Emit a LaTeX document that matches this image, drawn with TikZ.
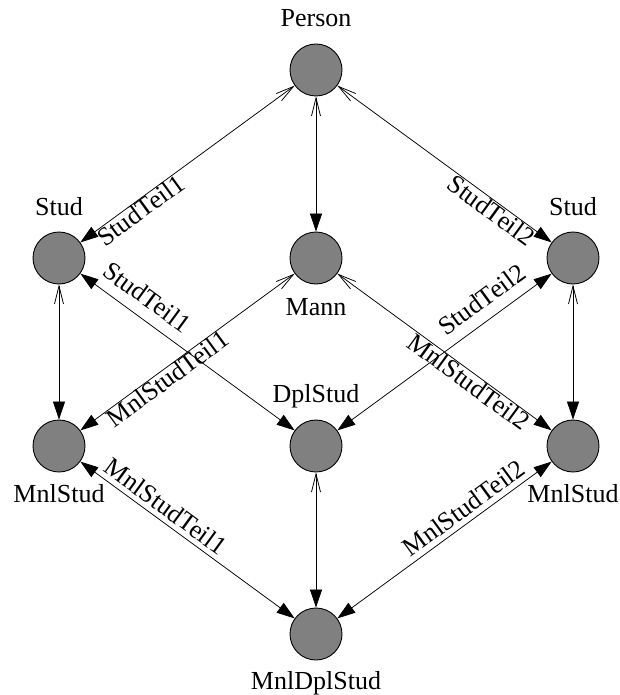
\documentclass[tikz,border=0pt]{standalone}
\usepackage{fontspec}
\setmainfont{Liberation Serif}
\usetikzlibrary{arrows.meta}
\definecolor{classgray}{RGB}{128,128,128}
\begin{document}
\begin{tikzpicture}[x=1pt,y=-1pt,
  cls/.style={circle, draw=black, line width=0.9pt, fill=classgray, minimum size=52pt, inner sep=0pt},
  cname/.style={font=\fontsize{26}{30}\selectfont, anchor=base, inner sep=0pt},
  lbl/.style={font=\fontsize{26}{30}\selectfont, sloped, inner sep=0pt},
  sub/.style={line width=0.75pt, {Straight Barb[length=18pt,width=9pt]}-{Triangle[length=18pt,width=12pt]}},
  both/.style={line width=0.75pt, {Triangle[length=18pt,width=12pt]}-{Triangle[length=18pt,width=12pt]}},
]
\useasboundingbox (0,0) rectangle (620,695);

% classes
\node[cls] (person) at (316,70)  {};
\node[cls] (studA)  at (59,258)  {};
\node[cls] (mann)   at (316,258) {};
\node[cls] (studB)  at (573,258) {};
\node[cls] (mnlA)   at (59,446)  {};
\node[cls] (dpl)    at (316,446) {};
\node[cls] (mnlB)   at (573,446) {};
\node[cls] (mnldpl) at (316,634) {};

% class names
\node[cname] (tperson) at (316,27)  {Person};
\node[cname] (tstudA)  at (59,215)  {Stud};
\node[cname] (tstudB)  at (573,215) {Stud};
\node[cname] (tmann)   at (316,315) {Mann};
\node[cname] (tdpl)    at (316,402) {DplStud};
\node[cname] (tmnlA)   at (59,502)  {MnlStud};
\node[cname] (tmnlB)   at (573,502) {MnlStud};
\node[cname] (tmnldpl) at (316,689) {MnlDplStud};

% specialisations
\draw[sub] (person) -- node[lbl, pos=0.745, below=0pt] (lA) {StudTeil1} (studA);
\draw[sub] (person) -- (mann);
\draw[sub] (person) -- node[lbl, pos=0.745, below=0pt] (lB) {StudTeil2} (studB);
\draw[sub] (studA) -- (mnlA);
\draw[sub] (studB) -- (mnlB);
\draw[sub] (mann) -- node[lbl, pos=0.62, below=0pt] (lC) {MnlStudTeil1} (mnlA);
\draw[sub] (mann) -- node[lbl, pos=0.64, below=0pt] (lD) {MnlStudTeil2} (mnlB);
\draw[sub] (dpl) -- (mnldpl);

% combined classes
\draw[both] (studA) -- node[lbl, pos=0.255, above=11pt] (lE) {StudTeil1} (dpl);
\draw[both] (studB) -- node[lbl, pos=0.27, above=11pt] (lF) {StudTeil2} (dpl);
\draw[both] (mnlA) -- node[lbl, pos=0.36, above=5pt] (lG) {MnlStudTeil1} (mnldpl);
\draw[both] (mnlB) -- node[lbl, pos=0.37, above=5pt] (lH) {MnlStudTeil2} (mnldpl);
\end{tikzpicture}
\end{document}
